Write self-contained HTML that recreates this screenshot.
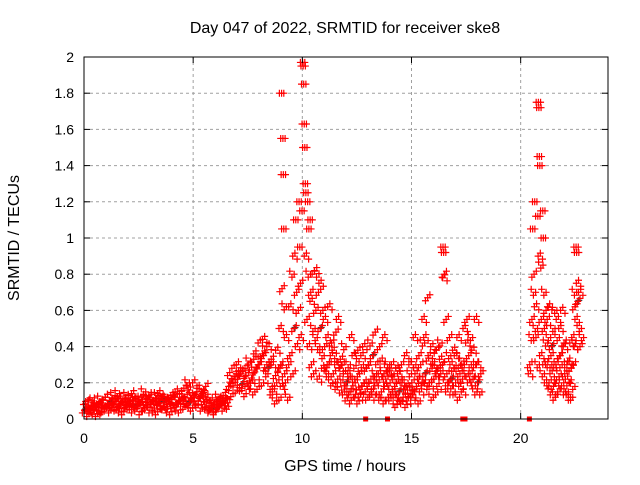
<!DOCTYPE html>
<html><head><meta charset="utf-8"><style>
body{margin:0;background:#fff;}
svg text{font-family:"Liberation Sans",sans-serif;font-size:14px;fill:#000;}
svg text.big{font-size:16px;}
</style></head><body>
<svg id="chart" width="640" height="480" xmlns="http://www.w3.org/2000/svg">
<text class="big" x="345" y="33" text-anchor="middle">Day 047 of 2022, SRMTID for receiver ske8</text>
<text class="big" x="345" y="471" text-anchor="middle">GPS time / hours</text>
<text class="big" x="19" y="238" text-anchor="middle" transform="rotate(-90 19 238)">SRMTID / TECUs</text>
<g id="grid"></g><g id="marks"></g><g id="axes"></g>
</svg>
<script>
const xTicks=[0,5,10,15,20];
const yTicks=[0,0.2,0.4,0.6,0.8,1,1.2,1.4,1.6,1.8,2];
const yTickLabels=["0","0.2","0.4","0.6","0.8","1","1.2","1.4","1.6","1.8","2"];
const binTimes=[0.1,0.3,0.5,0.7,0.9,1.1,1.3,1.5,1.7,1.9,2.1,2.3,2.5,2.7,2.9,3.1,3.3,3.5,3.7,3.9,4.1,4.3,4.5,4.7,4.9,5.1,5.3,5.5,5.7,5.9,6.1,6.3,6.5,6.7,6.9,7.1,7.3,7.5,7.7,7.9,8.1,8.3,8.5,8.7,8.9,9.1,9.3,9.5,9.7,9.9,10.1,10.3,10.5,10.7,10.9,11.1,11.3,11.5,11.7,11.9,12.1,12.3,12.5,12.7,12.9,13.1,13.3,13.5,13.7,13.9,14.1,14.3,14.5,14.7,14.9,15.1,15.3,15.5,15.7,15.9,16.1,16.3,16.5,16.7,16.9,17.1,17.3,17.5,17.7,17.9,18.1,20.5,20.7,20.9,21.1,21.3,21.5,21.7,21.9,22.1,22.3,22.5,22.7];
const binValues=[
[.05,.08,.03,.1],[.06,.04,.09,.07],[.05,.1,.03,.07],[.08,.05,.11,.06],[.04,.09,.06,.12],
[.07,.12,.05,.1],[.09,.06,.13,.08],[.1,.05,.14,.07],[.08,.11,.04,.09],[.06,.1,.13,.08],
[.09,.05,.12,.07],[.1,.14,.06,.08],[.07,.11,.04,.09],[.12,.08,.15,.06],[.09,.05,.11,.13],
[.08,.12,.05,.1],[.06,.09,.13,.04],[.1,.14,.07,.11],[.09,.05,.12,.08],[.07,.1,.04,.13],
[.11,.06,.09,.15],[.08,.12,.05,.1],[.1,.14,.07,.17],[.12,.08,.2,.1],[.09,.16,.13,.06],
[.12,.2,.08,.15],[.1,.17,.06,.13],[.14,.08,.11,.18],[.07,.12,.09,.05],[.06,.1,.04,.08],
[.05,.09,.12,.07],[.08,.11,.06,.1],[.1,.13,.07,.09],[.18,.24,.14,.22],[.2,.28,.16,.25],
[.22,.3,.17,.26],[.19,.25,.14,.28],[.24,.18,.32,.21],[.2,.27,.15,.33],[.26,.36,.18,.3],
[.3,.42,.2,.36],[.35,.44,.25,.3],[.28,.4,.18,.33],[.15,.3,.1,.24],[.2,.38,.12,.28],
[.3,.5,1.8,.72,.18,1.55,1.35,1.05,.62,.25],[.2,.45,.12,.3],[.35,.62,.8,.25],[.5,.9,1.1,.7,.4],[.6,1.2,.95,.75,.45,1.15],
[1.97,1.95,1.85,1.63,1.5,1.3,1.25,.9],[.55,1.2,.8,1.05,.4,1.1,.7],[.3,.65,.5,.25,.8,.45],[.6,.82,.4,.7,.22],[.5,.75,.35,.6,.28],
[.4,.55,.25,.3,.45],[.3,.62,.2,.42,.35],[.25,.38,.18,.48,.3],[.22,.55,.16,.33,.28],[.3,.2,.4,.15,.25],
[.2,.1,.3,.15,.25],[.15,.45,.22,.12,.35],[.2,.28,.1,.38,.16],[.25,.12,.3,.18,.35],[.2,.4,.12,.28,.15],
[.3,.18,.42,.22,.12],[.35,.15,.25,.48,.2],[.2,.3,.12,.4,.25],[.15,.32,.1,.25,.45],[.22,.18,.3,.12,.26],
[.2,.1,.25,.15,.3],[.18,.12,.22,.08,.28],[.15,.25,.1,.3,.2],[.12,.2,.08,.18,.35],[.16,.1,.25,.14,.3],
[.2,.12,.3,.15,.45],[.18,.25,.1,.35,.22],[.3,.15,.42,.2,.55],[.25,.45,.18,.67,.32],[.2,.35,.12,.28,.4],
[.22,.3,.15,.38,.25],[.28,.18,.42,.25,.33],[.3,.95,.92,.8,.78,.2,.55],[.25,.15,.35,.45,.2],[.22,.3,.15,.28,.38],
[.2,.35,.12,.28,.45],[.25,.18,.32,.22,.15],[.3,.5,.25,.55,.42],[.35,.2,.45,.3,.25],[.22,.38,.15,.3,.55],
[.2,.3,.15,.25],
[.3,.25,.45,.55,1.05,.7],[.8,1.2,.5,.45,.62,.3,1.12],[1.75,1.72,1.45,1.4,.9,.85,.55,.35,.25],[1.15,1.0,.7,.5,.3,.42,.6,.2],
[.55,.3,.45,.2,.62,.15,.35],[.4,.25,.5,.18,.3,.6,.12],[.3,.2,.45,.15,.55,.25,.35],[.35,.5,.2,.3,.6,.15,.42],
[.25,.4,.15,.3,.22,.12],[.2,.32,.12,.28,.42,.18],[.3,.45,.7,.62,.4,.95,.92,.55],[.65,.75,.5,.4,.7,.45]];
const zeroTimes=[12.9,13.9,17.35,17.45,20.4];

const X0=84,X1=608,Y0=419,Y1=57;
const xs=v=>X0+(v/24)*(X1-X0);
const ys=v=>Y0-(v/2)*(Y0-Y1);
const NS="http://www.w3.org/2000/svg";
function mk(tag,attrs,parent){const e=document.createElementNS(NS,tag);for(const k in attrs)e.setAttribute(k,attrs[k]);parent.appendChild(e);return e;}
const grid=document.getElementById('grid'),axes=document.getElementById('axes'),marks=document.getElementById('marks');
yTicks.forEach((t,i)=>{
  if(t>0&&t<2){const g=mk('line',{x1:X0,x2:X1,y1:ys(t),y2:ys(t),stroke:'#a0a0a0','stroke-dasharray':'3,3'},grid);
  
  }
  const tl=mk('text',{x:X0-10,y:ys(t)+5,'text-anchor':'end'},axes);tl.textContent=yTickLabels[i];
  
  
  mk('line',{x1:X0,x2:X0+6,y1:ys(t),y2:ys(t),stroke:'#000'},axes);
  mk('line',{x1:X1,x2:X1-6,y1:ys(t),y2:ys(t),stroke:'#000'},axes);
});
xTicks.forEach(t=>{
  if(t>0){const g=mk('line',{x1:xs(t),x2:xs(t),y1:Y0,y2:Y1,stroke:'#a0a0a0','stroke-dasharray':'3,3'},grid);
  
  }
  const tl=mk('text',{x:xs(t),y:Y0+24,'text-anchor':'middle'},axes);tl.textContent=String(t);
  
  
  mk('line',{x1:xs(t),x2:xs(t),y1:Y0,y2:Y0-6,stroke:'#000'},axes);
  mk('line',{x1:xs(t),x2:xs(t),y1:Y1,y2:Y1+6,stroke:'#000'},axes);
});
const frame=mk('rect',{x:X0,y:Y1,width:X1-X0,height:Y0-Y1,fill:'none',stroke:'#000','stroke-width':1},axes);


function plus(x,y,col){
  const p=mk('path',{d:`M${x-3.5},${y}h7M${x},${y-3.5}v7`,stroke:col,'stroke-width':1.2,fill:'none'},marks);
  
  
}
const clusterDx=[-2.2,0,2.2];
const clusterDy=[3,0,-3];
binTimes.forEach((t,i)=>{
  const vals=binValues[i];const n=vals.length;
  vals.forEach((v,j)=>{
    const tt=t+((j+0.5)/n-0.5)*0.2;
    if(j===0&&i%6===0) plus(xs(tt)+1,ys(v)-1,'#404040');
    clusterDx.forEach((dx,k)=>{
      const y=Math.min(Y0,ys(v)+(v>0.9?0:clusterDy[(k+j)%3]));
      plus(xs(tt)+dx,y,'#ff0000');
    });
  });
});
zeroTimes.forEach(t=>{
  const r=mk('rect',{x:xs(t)-2.5,y:Y0-2.5,width:5,height:5,fill:'#ff0000'},marks);
  
  
});
</script>
</body></html>
